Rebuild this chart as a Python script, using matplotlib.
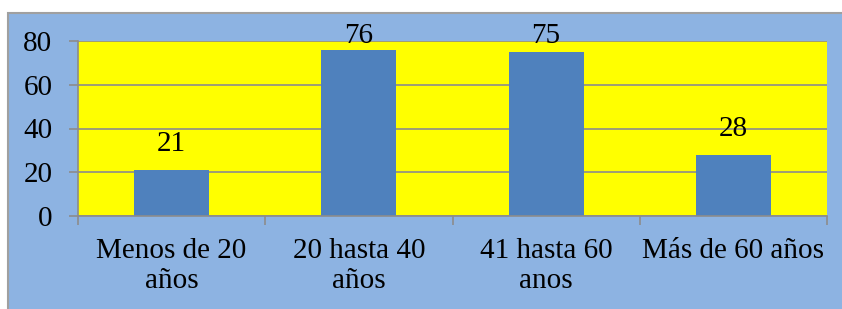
import matplotlib.pyplot as plt
from matplotlib.patches import Rectangle
import numpy as np

plt.rcParams['font.family'] = ['Liberation Serif', 'DejaVu Serif']

categorias = ['Menos de 20\naños', '20 hasta 40\naños', '41 hasta 60\nanos', 'Más de 60 años']
valores = [21, 76, 75, 28]

fig = plt.figure(figsize=(8.42, 3.09), dpi=100)
fig.patch.set_facecolor('white')
# fondo azul del grafico
fig.patches.append(Rectangle((8 / 842, -0.05), 1.1, 1.05 - 13 / 309, transform=fig.transFigure,
                             facecolor='#8DB3E2', edgecolor='#A0A0A0', linewidth=1.5, zorder=-1))

ax = fig.add_axes([78 / 842, 1 - 216 / 309, (827 - 78) / 842, (216 - 41) / 309])
ax.set_facecolor('#FFFF00')

x = np.arange(len(categorias))
barras = ax.bar(x, valores, width=0.4, color='#4F81BD', zorder=2)

# etiquetas encima de las barras; las altas quedan limitadas por el borde superior
px_por_unidad = 175 / 80
for b, v in zip(barras, valores):
    libre = (80 - v) * px_por_unidad + 28
    extra = min(12.5, libre - 36.3)
    ax.annotate(str(v), (b.get_x() + b.get_width() / 2, v), xytext=(0, 0.5 + extra * 0.72),
                textcoords='offset points', ha='center', va='bottom', fontsize=21,
                annotation_clip=False)

ax.set_xlim(-0.5, len(categorias) - 0.5)
ax.set_ylim(0, 80)
ax.set_yticks([0, 20, 40, 60, 80])
ax.yaxis.grid(True, color='#8C8C8C', linewidth=1.2, zorder=1)
ax.set_axisbelow(True)

ax.set_xticks(x)
ax.set_xticklabels(categorias, fontsize=21)
ax.set_xticks(np.arange(-0.5, len(categorias)), minor=True)
ax.tick_params(axis='x', which='major', length=0, pad=16)
ax.tick_params(axis='x', which='minor', length=6.5, color='#8C8C8C', width=1.2)
ax.tick_params(axis='y', length=6.5, color='#8C8C8C', width=1.2, labelsize=21, pad=12)

for s in ['top', 'right']:
    ax.spines[s].set_visible(False)
for s in ['left', 'bottom']:
    ax.spines[s].set_color('#8C8C8C')
    ax.spines[s].set_linewidth(1.2)

fig.savefig('out.png', dpi=100)
